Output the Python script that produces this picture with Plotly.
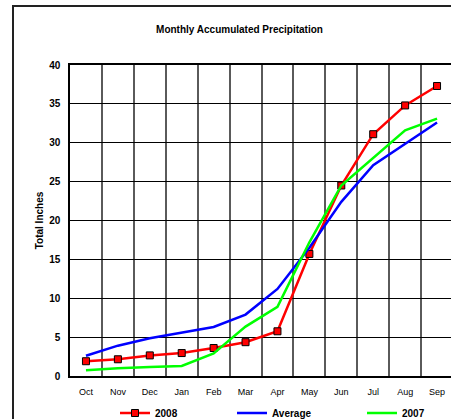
import plotly.graph_objects as go

months = ["Oct", "Nov", "Dec", "Jan", "Feb", "Mar", "Apr", "May", "Jun", "Jul", "Aug", "Sep"]
precip_2008 = [1.9, 2.15, 2.65, 2.95, 3.6, 4.35, 5.75, 15.7, 24.5, 31.1, 34.8, 37.3]
precip_avg = [2.6, 3.9, 4.85, 5.6, 6.3, 7.9, 11.2, 16.5, 22.4, 27.1, 29.9, 32.6]
precip_2007 = [0.75, 1.0, 1.15, 1.3, 2.9, 6.35, 8.9, 17.2, 24.5, 28.0, 31.6, 33.1]
y_ticks = [0, 5, 10, 15, 20, 25, 30, 35, 40]

FONT = "Arial, Liberation Sans, sans-serif"

fig = go.Figure()
fig.add_trace(go.Scatter(
    x=months, y=precip_2008, name="2008", mode="lines+markers",
    line=dict(color="#ff0000", width=2.5),
    marker=dict(symbol="square", size=7, color="#ff0000", line=dict(color="#000000", width=1)),
    legend="legend",
))
fig.add_trace(go.Scatter(
    x=months, y=precip_avg, name="Average", mode="lines",
    line=dict(color="#0000ff", width=2.5),
    legend="legend2",
))
fig.add_trace(go.Scatter(
    x=months, y=precip_2007, name="2007", mode="lines",
    line=dict(color="#00ff00", width=2.5),
    legend="legend3",
))

W, H = 453, 419
L, T, B = 70, 65, 43
pw = W - L
ph = H - T - B

leg_common = dict(orientation="h", yanchor="middle", xanchor="left",
                  xref="container", yref="container",
                  font=dict(family=FONT, size=10, color="#000000", weight="bold"),
                  bgcolor="rgba(0,0,0,0)", borderwidth=0)

fig.update_layout(
    width=W, height=H,
    margin=dict(l=L, r=0, t=T, b=B, autoexpand=False),
    paper_bgcolor="white", plot_bgcolor="white",
    title=dict(text="Monthly Accumulated Precipitation",
               font=dict(family=FONT, size=10, color="#000000", weight="bold"),
               x=239.5 / W, xref="container", xanchor="center",
               y=1 - 29.5 / H, yref="container", yanchor="middle"),
    showlegend=True,
    legend=dict(x=115 / W, y=1 - 413 / H, **leg_common),
    legend2=dict(x=232 / W, y=1 - 413 / H, **leg_common),
    legend3=dict(x=362 / W, y=1 - 413 / H, **leg_common),
    xaxis=dict(type="category", categoryorder="array", categoryarray=months,
               range=[-0.5, 11.5], tickson="boundaries", automargin=False,
               showgrid=True, gridcolor="#5a5a5a", gridwidth=1.5,
               showline=True, linecolor="#000000", linewidth=1.5, mirror=True,
               ticks="", tickfont=dict(family=FONT, size=9, color="#000000"),
               ticklabelstandoff=6, zeroline=False),
    yaxis=dict(range=[0, 40], tickvals=y_ticks, automargin=False,
               showgrid=True, gridcolor="#000000", gridwidth=1,
               showline=True, linecolor="#000000", linewidth=1.5, mirror=False,
               ticks="", tickfont=dict(family=FONT, size=10, color="#000000", weight="bold"),
               ticklabelstandoff=6, zeroline=False,
               title=dict(text="Total Inches", standoff=4,
                          font=dict(family=FONT, size=10, color="#000000", weight="bold"))),
    shapes=[
        dict(type="rect", xref="paper", yref="paper",
             x0=(13 - L) / pw, x1=(700 - L) / pw,
             y0=(H - B - 700) / ph, y1=(H - B - 6) / ph,
             line=dict(color="#222222", width=2), fillcolor="rgba(0,0,0,0)", layer="below"),
    ],
)

fig.write_html(
    "out.html", config={"displayModeBar": False},
    post_script=("document.documentElement.style.overflow='hidden';"
                 "document.body.style.margin='0';document.body.style.overflow='hidden';"),
)
